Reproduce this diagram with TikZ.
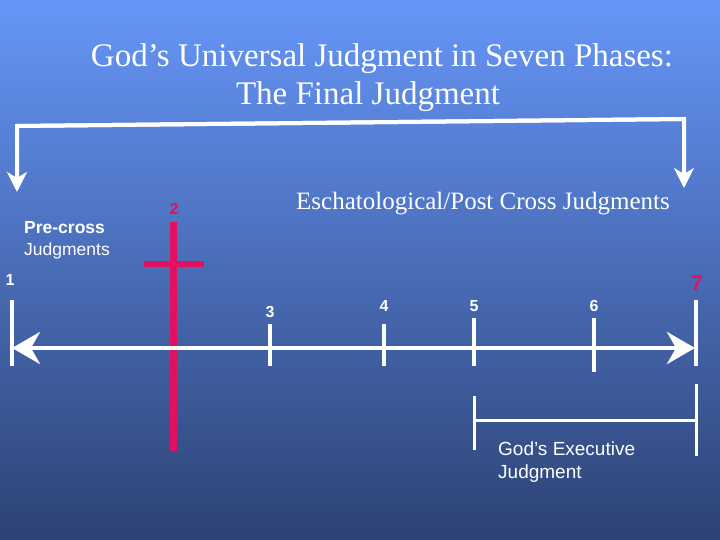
\documentclass[tikz,border=0pt]{standalone}
\usepackage{fontspec}
\setmainfont{Liberation Serif}
\newfontfamily\arialf{Liberation Sans}
\usetikzlibrary{arrows.meta}
\definecolor{bgtop}{RGB}{102,150,248}
\definecolor{bgbot}{RGB}{44,66,116}
\definecolor{crossc}{RGB}{225,16,96}
\tikzset{
  wline/.style={draw=white,line width=4.5pt},
  bline/.style={draw=white,line width=4pt},
  tickln/.style={draw=white,line width=4.5pt},
  exln/.style={draw=white,line width=3pt},
  crossln/.style={draw=crossc,line width=7pt},
  numlbl/.style={text=white,font=\arialf\bfseries\fontsize{16}{18}\selectfont,inner sep=0pt},
  sanslbl/.style={text=white,font=\arialf\fontsize{17.5}{22}\selectfont,inner sep=0pt,align=left},
  titlelbl/.style={text=white,font=\fontsize{33}{38}\selectfont,inner sep=0pt},
}
\begin{document}
\begin{tikzpicture}[x=1pt,y=-1pt]
\shade[top color=bgtop,bottom color=bgbot] (0,0) rectangle (720,540);
\useasboundingbox (0,0) rectangle (720,540);
% title
\node[titlelbl] (title) at (382,59) {God’s Universal Judgment in Seven Phases:};
\node[titlelbl] (title2) at (368,97) {The Final Judgment};
% top bracket
\coordinate (bl) at (17,192);
\coordinate (bltop) at (17,126);
\coordinate (brtop) at (684,119);
\coordinate (br) at (684,188);
\draw[bline,-{Stealth[length=20pt,width=20pt,inset=6pt]}] (brtop) -- (bltop) -- (bl);
\draw[bline,-{Stealth[length=20pt,width=20pt,inset=6pt]}] (bltop) -- (brtop) -- (br);
\node[text=white,font=\fontsize{25}{28}\selectfont,inner sep=0pt] (escha) at (483,204) {Eschatological/Post Cross Judgments};
\node[sanslbl,anchor=west] (pre) at (24,240) {\textbf{Pre-cross}\\Judgments};
% cross
\coordinate (ctop) at (173,222);
\coordinate (cbot) at (173,451);
\coordinate (cl) at (144,264);
\coordinate (cr) at (204,264);
\draw[crossln] (ctop) -- (cbot);
\draw[crossln,line width=6pt] (cl) -- (cr);
\node[numlbl,text=crossc] (n2) at (174,209) {2};
% timeline
\coordinate (t1a) at (12,300);
\coordinate (t1b) at (12,366);
\coordinate (t7a) at (696,300);
\coordinate (t7b) at (696,366);
\coordinate (tl) at (12,348);
\coordinate (tr) at (695,348);
\draw[wline,{Stealth[length=28pt,width=32pt,inset=9pt]}-{Stealth[length=28pt,width=32pt,inset=9pt]}] (tl) -- (tr);
\draw[tickln] (t1a) -- (t1b);
\draw[tickln] (t7a) -- (t7b);
\coordinate (t3a) at (270,324); \coordinate (t3b) at (270,366);
\coordinate (t4a) at (384,324); \coordinate (t4b) at (384,366);
\coordinate (t5a) at (474,318); \coordinate (t5b) at (474,366);
\coordinate (t6a) at (594,318); \coordinate (t6b) at (594,372);
\draw[tickln] (t3a) -- (t3b);
\draw[tickln] (t4a) -- (t4b);
\draw[tickln] (t5a) -- (t5b);
\draw[tickln] (t6a) -- (t6b);
\node[numlbl] (n1) at (10,280) {1};
\node[numlbl] (n3) at (270,312) {3};
\node[numlbl] (n4) at (384,306) {4};
\node[numlbl] (n5) at (474,306) {5};
\node[numlbl] (n6) at (594,306) {6};
\node[numlbl,text=crossc,font=\arialf\bfseries\fontsize{21}{22}\selectfont] (n7) at (697,283) {7};
% executive bracket
\coordinate (e5a) at (474,396); \coordinate (e5b) at (474,450);
\coordinate (e7a) at (696,384); \coordinate (e7b) at (696,456);
\coordinate (eh5) at (474,420); \coordinate (eh7) at (696,420);
\draw[exln] (e5a) -- (e5b);
\draw[exln] (e7a) -- (e7b);
\draw[exln] (eh5) -- (eh7);
\node[sanslbl,anchor=west,font=\arialf\fontsize{19}{23}\selectfont] (exec) at (498,462) {God’s Executive\\Judgment};
\end{tikzpicture}
\end{document}
